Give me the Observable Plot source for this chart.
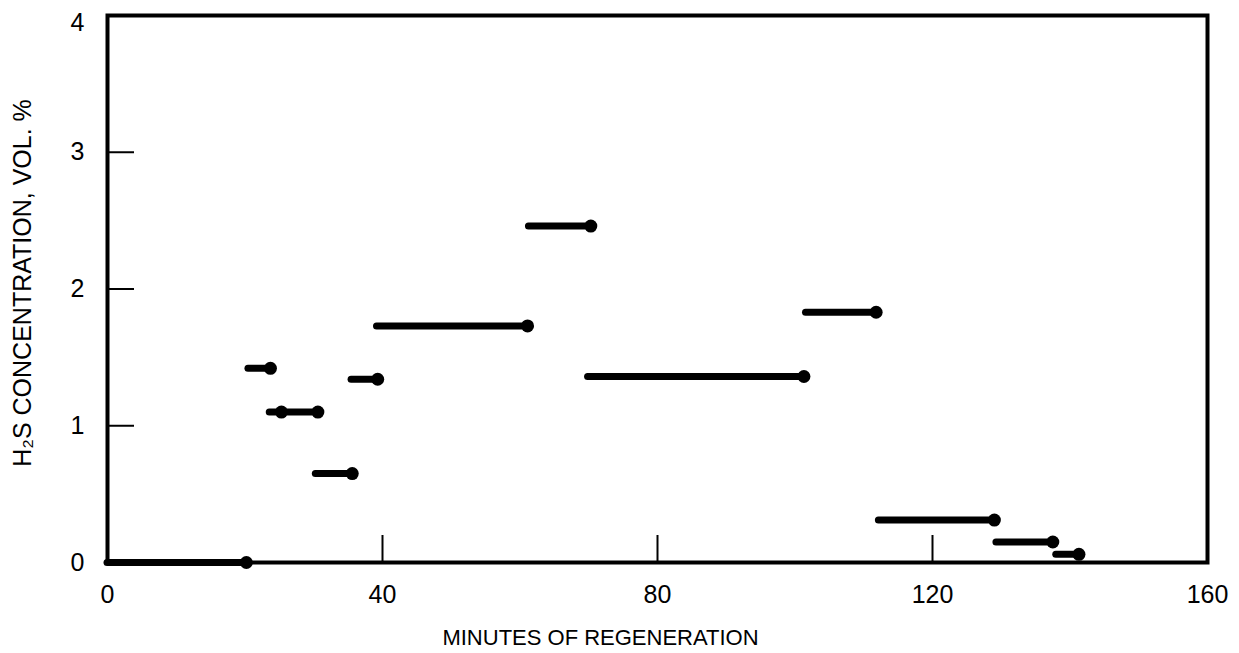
<!DOCTYPE html>
<html>
<head>
<meta charset="utf-8">
<script src="https://cdn.jsdelivr.net/npm/d3@7"></script>
<script src="https://cdn.jsdelivr.net/npm/@observablehq/plot@0.6"></script>
<style>
  html, body { margin: 0; padding: 0; background: #fff; }
  #chart { width: 1239px; height: 653px; }
</style>
</head>
<body>
<div id="chart"></div>
<script>
// H2S concentration held over each interval of the regeneration run.
const startMinutes = [0, 20.5, 23.6, 30.3, 35.5, 39.2, 61.3, 69.9, 101.6, 112.2, 129.3, 138.0];
const endMinutes   = [20.2, 23.7, 30.6, 35.6, 39.3, 61.1, 70.3, 101.3, 111.8, 129.0, 137.5, 141.3];
const concentration = [0, 1.42, 1.10, 0.65, 1.34, 1.73, 2.46, 1.36, 1.83, 0.31, 0.15, 0.06];

// An extra sample point plotted inside one interval.
const extraMinutes = [25.3];
const extraConcentration = [1.10];

const xTicks = [0, 40, 80, 120, 160];
const yTicksLower = [0, 1, 2, 3];
const yTickTop = [4];
const xInnerTicks = [40, 80, 120];
const yInnerTicks = [1, 2, 3];

const xTitle = "MINUTES OF REGENERATION";
const yTitle = "H\u2082S CONCENTRATION, VOL. %";

const intervals = startMinutes.map((s, i) => ({start: s, end: endMinutes[i], conc: concentration[i]}));
const extras = extraMinutes.map((m, i) => ({minute: m, conc: extraConcentration[i]}));

const width = 1239, height = 653;
const marginLeft = 107, marginRight = 32, marginTop = 15, marginBottom = 91;
const innerH = height - marginTop - marginBottom;
const innerW = width - marginLeft - marginRight;
const tickLen = 27;

const font = "'Liberation Sans', Arial, Helvetica, sans-serif";

const chart = Plot.plot({
  width, height, marginLeft, marginRight, marginTop, marginBottom,
  x: {domain: [0, 160]},
  y: {domain: [0, 4]},
  style: {fontFamily: font, color: "#000", background: "#fff"},
  marks: [
    Plot.axisX({ticks: xTicks, tickSize: 0, tickPadding: 23, label: null, fontSize: 25, tickFormat: d => String(d)}),
    Plot.axisY({ticks: yTicksLower, tickSize: 0, tickPadding: 23, label: null, fontSize: 25, tickFormat: d => String(d)}),
    Plot.axisY({ticks: yTickTop, tickSize: 0, tickPadding: 23, label: null, fontSize: 25, dy: 7, tickFormat: d => String(d)}),
    // short inward tick marks
    Plot.ruleX(xInnerTicks, {y1: 4, y2: 0, insetTop: innerH - tickLen, stroke: "#000", strokeWidth: 2}),
    Plot.ruleY(yInnerTicks, {x1: 0, x2: 160, insetRight: innerW - tickLen, stroke: "#000", strokeWidth: 2}),
    Plot.frame({stroke: "#000", strokeWidth: 4}),
    // interval bars
    Plot.ruleY(intervals, {y: "conc", x1: "start", x2: "end", stroke: "#000", strokeWidth: 7, strokeLinecap: "round"}),
    Plot.dot(intervals, {x: "end", y: "conc", r: 6.5, fill: "#000", stroke: null}),
    Plot.dot(extras, {x: "minute", y: "conc", r: 6.5, fill: "#000", stroke: null}),
    // axis titles
    Plot.text([xTitle], {frameAnchor: "bottom", dx: -57, dy: 75, textAnchor: "middle", lineAnchor: "middle", fontSize: 22, fill: "#000"}),
    Plot.text([yTitle], {frameAnchor: "left", dx: -85, dy: -6, rotate: -90, textAnchor: "middle", lineAnchor: "middle", fontSize: 25, fill: "#000"})
  ]
});

document.getElementById("chart").appendChild(chart);
</script>
</body>
</html>
